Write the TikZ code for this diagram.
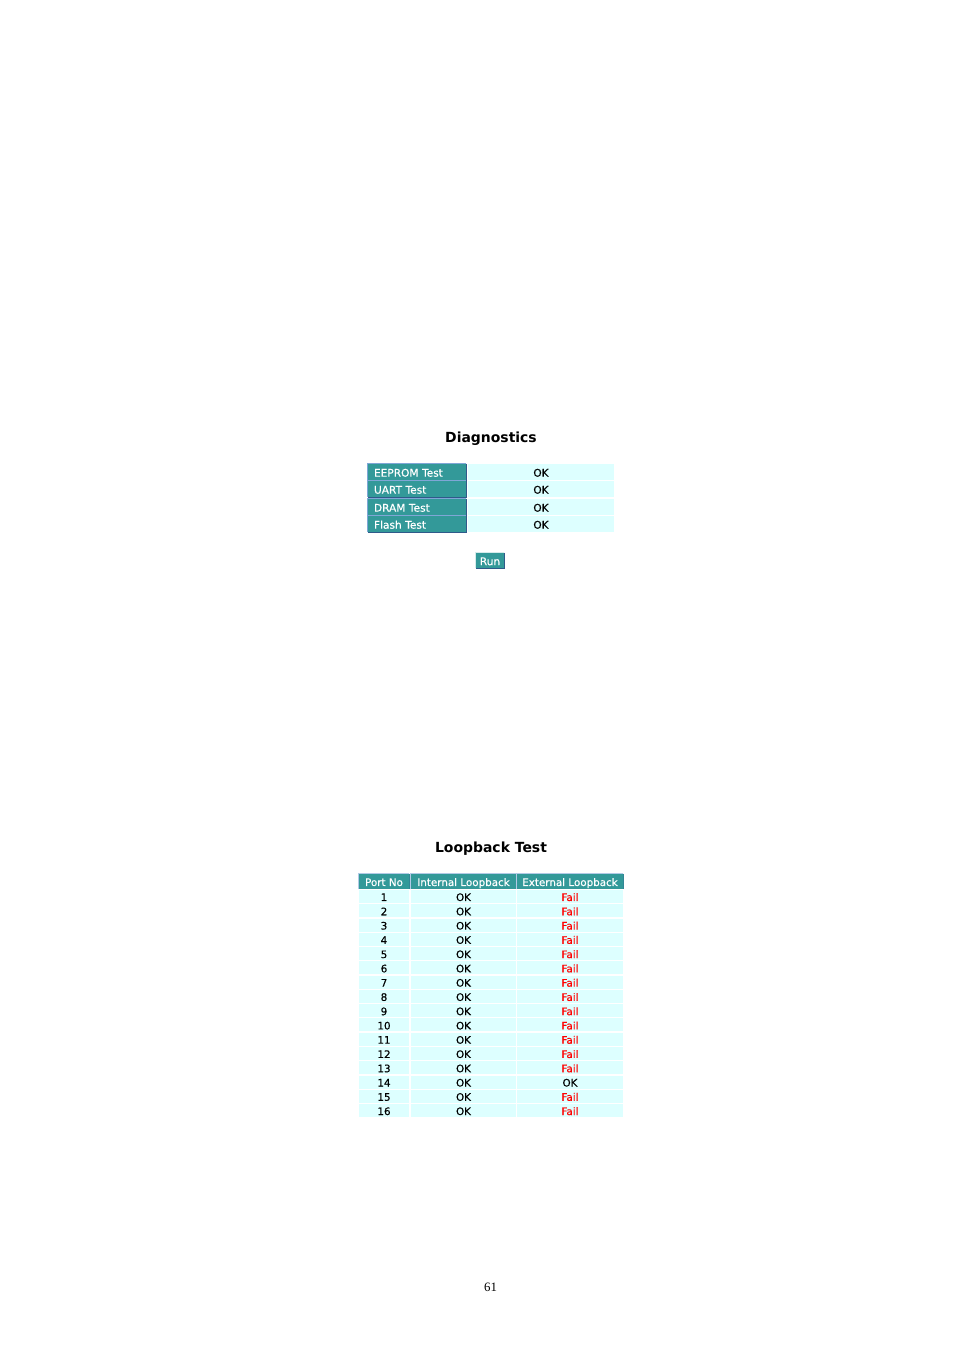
\documentclass[tikz,border=0pt]{standalone}
\usepackage{fontspec}
\setmainfont{DejaVu Sans}
\newfontfamily\tabfont[FakeBold=0.4]{DejaVu Sans}
\newfontfamily\pagefont{Liberation Serif}
\def\pxu{0.624pt}
\definecolor{teal1}{HTML}{339999}
\definecolor{cyanbg}{HTML}{DDFFFF}
\definecolor{lightedge}{HTML}{7FA6D6}
\definecolor{darkedge}{HTML}{2F5A8A}
\definecolor{failred}{HTML}{FF0000}
\tikzset{
  title/.style={font=\fontsize{8.7}{10}\selectfont\bfseries, inner sep=0pt},
  hdrcell/.style={fill=teal1, text=white, inner sep=0pt, font=\tabfont\fontsize{6.6}{7}\selectfont, text height=5.8pt, text depth=0pt},
  valcell/.style={fill=cyanbg, inner sep=0pt, font=\tabfont\fontsize{6.6}{7}\selectfont, text height=5.8pt, text depth=0pt},
  lbhdr/.style={fill=teal1, text=white, inner sep=0pt, font=\tabfont\fontsize{6.45}{7}\selectfont, text height=5.6pt, text depth=0pt},
  lbcell/.style={fill=cyanbg, inner sep=0pt, font=\tabfont\fontsize{6.45}{7}\selectfont, text height=5.6pt, text depth=0pt},
  lightline/.style={draw=lightedge, line width=0.9pt},
  darkline/.style={draw=darkedge, line width=0.9pt},
}
\newcommand{\bevel}[1]{%
  \draw[lightline] (#1.south west) -- (#1.north west) -- (#1.north east);
  \draw[darkline] (#1.north east) -- (#1.south east) -- (#1.south west);
}
\begin{document}
\begin{tikzpicture}[x=0.624pt,y=-0.624pt]
\useasboundingbox (0,0) rectangle (954,1351);
\fill[white] (0,0) rectangle (954,1351);

% Diagnostics
\node[title] (dtitle) at (491,438.3) {Diagnostics};

\foreach \lab/\yc [count=\i] in {EEPROM Test/472, UART Test/489, DRAM Test/507, Flash Test/524}{
  \node[hdrcell, minimum height={16*\pxu}, text width={86*\pxu}, inner xsep={6*\pxu}, align=left] (dh\i) at (417,\yc) {\lab};
  \bevel{dh\i}
  \node[valcell, minimum width={146*\pxu}, minimum height={16*\pxu}] (dv\i) at (541,\yc) {OK};
}

\node[hdrcell, minimum width={28*\pxu}, minimum height={15*\pxu}] (run) at (490,560.5) {Run};
\draw[draw=white!80!teal1, line width=0.9pt] (run.south west) -- (run.north west) -- (run.north east);
\draw[darkline] (run.north east) -- (run.south east) -- (run.south west);

% Loopback Test
\node[title] (ltitle) at (491,848.3) {Loopback Test};

\node[lbhdr, minimum width={50*\pxu}, minimum height={15*\pxu}] (hp) at (384,881.5) {Port No};
\node[lbhdr, minimum width={105*\pxu}, minimum height={15*\pxu}] (hi) at (463.5,881.5) {Internal Loopback};
\node[lbhdr, minimum width={106*\pxu}, minimum height={15*\pxu}] (he) at (570,881.5) {External Loopback};
\foreach \n in {hp,hi,he}{
  \draw[draw=lightedge!60!white, line width=0.9pt] (\n.south west) -- (\n.north west) -- (\n.north east);
  \draw[draw=teal1!70!darkedge, line width=0.6pt] (\n.north east) -- (\n.south east);
}

\foreach \i in {1,...,16}{
  \pgfmathsetmacro{\yc}{896.5+(\i-1)*14.27}
  \node[lbcell, minimum width={50*\pxu}, minimum height={13*\pxu}] (p\i) at (384,\yc) {\i};
  \node[lbcell, minimum width={105*\pxu}, minimum height={13*\pxu}] (in\i) at (463.5,\yc) {OK};
  \ifnum\i=14
    \node[lbcell, minimum width={106*\pxu}, minimum height={13*\pxu}] (ex\i) at (570,\yc) {OK};
  \else
    \node[lbcell, minimum width={106*\pxu}, minimum height={13*\pxu}, text=failred] (ex\i) at (570,\yc) {Fail};
  \fi
}

% page number
\node[font=\pagefont\fontsize{8}{9}\selectfont, inner sep=0pt] (pnum) at (490.5,1287.5) {61};
\end{tikzpicture}
\end{document}
